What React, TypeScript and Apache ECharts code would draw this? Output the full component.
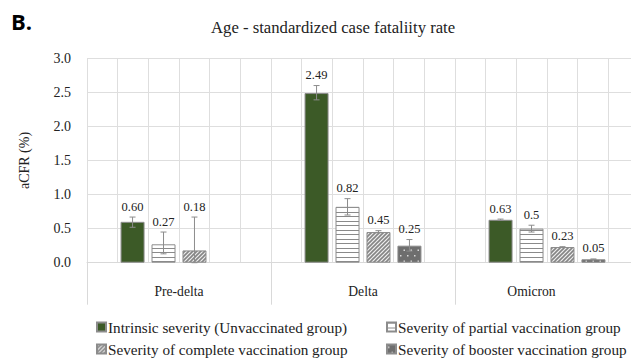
import React, { useEffect, useRef } from "react";
import * as echarts from "echarts";

const categories = ["Pre-delta", "Delta", "Omicron"];
const seriesNames = [
  "Intrinsic severity (Unvaccinated group)",
  "Severity of partial vaccination group",
  "Severity of complete vaccination group",
  "Severity of booster vaccination group",
];
const intrinsic = [0.6, 2.49, 0.63];
const partial = [0.27, 0.82, 0.5];
const complete = [0.18, 0.45, 0.23];
const booster = [null, 0.25, 0.05];

const intrinsicLow = [0.52, 2.39, 0.62];
const intrinsicHigh = [0.67, 2.6, 0.64];
const partialLow = [0.13, 0.7, 0.45];
const partialHigh = [0.45, 0.94, 0.55];
const completeLow = [0.0, 0.44, 0.225];
const completeHigh = [0.67, 0.47, 0.235];
const boosterLow = [null, 0.17, 0.045];
const boosterHigh = [null, 0.34, 0.055];

const intrinsicLabels = ["0.60", "2.49", "0.63"];
const partialLabels = ["0.27", "0.82", "0.5"];
const completeLabels = ["0.18", "0.45", "0.23"];
const boosterLabels = ["", "0.25", "0.05"];

const yTicks = { min: 0, max: 3, interval: 0.5 };

const SERIF = "Liberation Serif";
const BAR_W = 24;
const BAR_GAP = 0.29;

function makeCanvas(w: number, h: number, draw: (c: CanvasRenderingContext2D) => void) {
  const cv = document.createElement("canvas");
  cv.width = w;
  cv.height = h;
  const ctx = cv.getContext("2d")!;
  draw(ctx);
  return cv;
}

export default function App() {
  const ref = useRef<HTMLDivElement>(null);
  useEffect(() => {
    if (!ref.current) return;
    const chart = echarts.init(ref.current, undefined, { renderer: "svg" });

    const hStripe = makeCanvas(4, 9, (c) => {
      c.fillStyle = "#ffffff";
      c.fillRect(0, 0, 4, 9);
      c.fillStyle = "#8a8a8a";
      c.fillRect(0, 0, 4, 1);
      c.fillRect(0, 5, 4, 1);
    });
    const diag = makeCanvas(4, 4, (c) => {
      c.fillStyle = "#eeeeee";
      c.fillRect(0, 0, 4, 4);
      c.strokeStyle = "#858585";
      c.lineWidth = 1.6;
      c.beginPath();
      c.moveTo(-1, 5);
      c.lineTo(5, -1);
      c.moveTo(-1, 1);
      c.lineTo(1, -1);
      c.moveTo(3, 5);
      c.lineTo(5, 3);
      c.stroke();
    });
    const dots = makeCanvas(7, 11, (c) => {
      c.fillStyle = "#6e6e6e";
      c.fillRect(0, 0, 7, 11);
      c.fillStyle = "#d8d8d8";
      c.fillRect(1, 2, 1.5, 1.5);
      c.fillRect(4.5, 7.5, 1.5, 1.5);
    });

    const fills: any[] = [
      "#3c5a27",
      { image: hStripe, repeat: "repeat" },
      { image: diag, repeat: "repeat" },
      { image: dots, repeat: "repeat" },
    ];
    const values = [intrinsic, partial, complete, booster];
    const lows = [intrinsicLow, partialLow, completeLow, boosterLow];
    const highs = [intrinsicHigh, partialHigh, completeHigh, boosterHigh];
    const labels = [intrinsicLabels, partialLabels, completeLabels, boosterLabels];

    const errData: any[] = [];
    values.forEach((vals, k) => {
      vals.forEach((v, ci) => {
        if (v == null) return;
        errData.push([ci, k, lows[k][ci], highs[k][ci], v, labels[k][ci]]);
      });
    });

    const barSeries = values.map((vals, k) => ({
      type: "bar",
      name: seriesNames[k],
      xAxisIndex: 0,
      yAxisIndex: 0,
      data: vals.map((v) => (v == null ? "-" : v)),
      barWidth: BAR_W,
      barGap: `${BAR_GAP * 100}%`,
      itemStyle: { color: fills[k], borderColor: "#8c8c8c", borderWidth: 1 },
      emphasis: { disabled: true },
    }));

    const legendText = { fontFamily: SERIF, fontSize: 15.2, color: "#222", lineHeight: 16, padding: [0, 0, 0, -3] };
    const option: any = {
      animation: false,
      backgroundColor: "#ffffff",
      textStyle: { fontFamily: SERIF },
      title: [
        {
          text: "B.",
          left: 6,
          top: 5,
          textStyle: { fontFamily: "Open Sans", fontWeight: "bold", fontSize: 22, color: "#000" },
        },
        {
          text: "Age - standardized case fataliity rate",
          left: 206,
          top: 14,
          textStyle: { fontFamily: SERIF, fontWeight: "normal", fontSize: 16.7, color: "#222" },
        },
      ],
      legend: [
        {
          orient: "vertical",
          left: 96,
          top: 319,
          padding: 0,
          itemWidth: 9,
          itemHeight: 9,
          itemGap: 6,
          icon: "rect",
          data: [seriesNames[0], seriesNames[2]],
          textStyle: legendText,
        },
        {
          orient: "vertical",
          left: 386,
          top: 319,
          padding: 0,
          itemWidth: 9,
          itemHeight: 9,
          itemGap: 6,
          icon: "rect",
          data: [seriesNames[1], seriesNames[3]],
          textStyle: legendText,
        },
      ],
      grid: { left: 87, right: 21, top: 58.3, bottom: 96.3, containLabel: false },
      xAxis: [
        {
          type: "category",
          data: categories,
          axisLine: { show: true, lineStyle: { color: "#d9d9d9", width: 1 } },
          axisTick: { show: true, interval: 0, length: 42, lineStyle: { color: "#d9d9d9" } },
          splitLine: { show: false },
          axisLabel: {
            interval: 0,
            margin: 22,
            fontFamily: SERIF,
            fontSize: 13.6,
            color: "#222",
            formatter: (v: string) => (v === "Omicron" ? `{o|${v}}` : `{n|${v}}`),
            rich: {
              o: { fontFamily: SERIF, fontSize: 13.6, color: "#222", padding: [0, 31, 0, 0] },
              n: { fontFamily: SERIF, fontSize: 13.6, color: "#222" },
            },
          },
        },
        {
          type: "value",
          min: 0,
          max: 18,
          interval: 1,
          position: "bottom",
          axisLine: { show: false },
          axisTick: { show: false },
          axisLabel: { show: false },
          splitLine: { show: true, lineStyle: { color: "#dedede", width: 1 } },
        },
      ],
      yAxis: {
        type: "value",
        min: yTicks.min,
        max: yTicks.max,
        interval: yTicks.interval,
        name: "aCFR (%)",
        nameLocation: "middle",
        nameGap: 56,
        nameRotate: 90,
        nameTextStyle: { fontFamily: SERIF, fontSize: 14, color: "#222" },
        axisLine: { show: false },
        axisTick: { show: false },
        axisLabel: {
          margin: 16,
          fontFamily: SERIF,
          fontSize: 14,
          color: "#222",
          formatter: (v: number) => v.toFixed(1),
        },
        splitLine: { show: true, lineStyle: { color: "#dedede", width: 1 } },
      },
      series: [
        ...barSeries,
        {
          type: "custom",
          xAxisIndex: 0,
          yAxisIndex: 0,
          z: 10,
          silent: true,
          data: errData,
          renderItem: (params: any, api: any) => {
            const ci = api.value(0);
            const k = api.value(1);
            const lo = api.value(2);
            const hi = api.value(3);
            const v = api.value(4);
            const lbl = errData[params.dataIndex][5];
            const step = BAR_W * (1 + BAR_GAP);
            const x = api.coord([ci, 0])[0] + (k - 1.5) * step;
            const yLo = api.coord([ci, lo])[1];
            const yHi = api.coord([ci, hi])[1];
            const yV = api.coord([ci, v])[1];
            const top = Math.min(yHi, yV);
            const st = { stroke: "#8c8c8c", lineWidth: 1 };
            return {
              type: "group",
              children: [
                { type: "line", shape: { x1: x, y1: yLo, x2: x, y2: yHi }, style: st },
                { type: "line", shape: { x1: x - 3, y1: yLo, x2: x + 3, y2: yLo }, style: st },
                { type: "line", shape: { x1: x - 3, y1: yHi, x2: x + 3, y2: yHi }, style: st },
                {
                  type: "text",
                  x,
                  y: top - 4,
                  style: {
                    text: lbl,
                    fontFamily: SERIF,
                    fontSize: 12.5,
                    fill: "#222",
                    align: "center",
                    verticalAlign: "bottom",
                  },
                },
              ],
            };
          },
        },
      ],
    };
    chart.setOption(option);
    return () => chart.dispose();
  }, []);
  return (
    <div style={{ position: "fixed", left: 0, top: 0, width: 631, height: 359, overflow: "hidden", background: "#fff" }}>
      <div ref={ref} style={{ width: 660, height: 359 }} />
    </div>
  );
}
